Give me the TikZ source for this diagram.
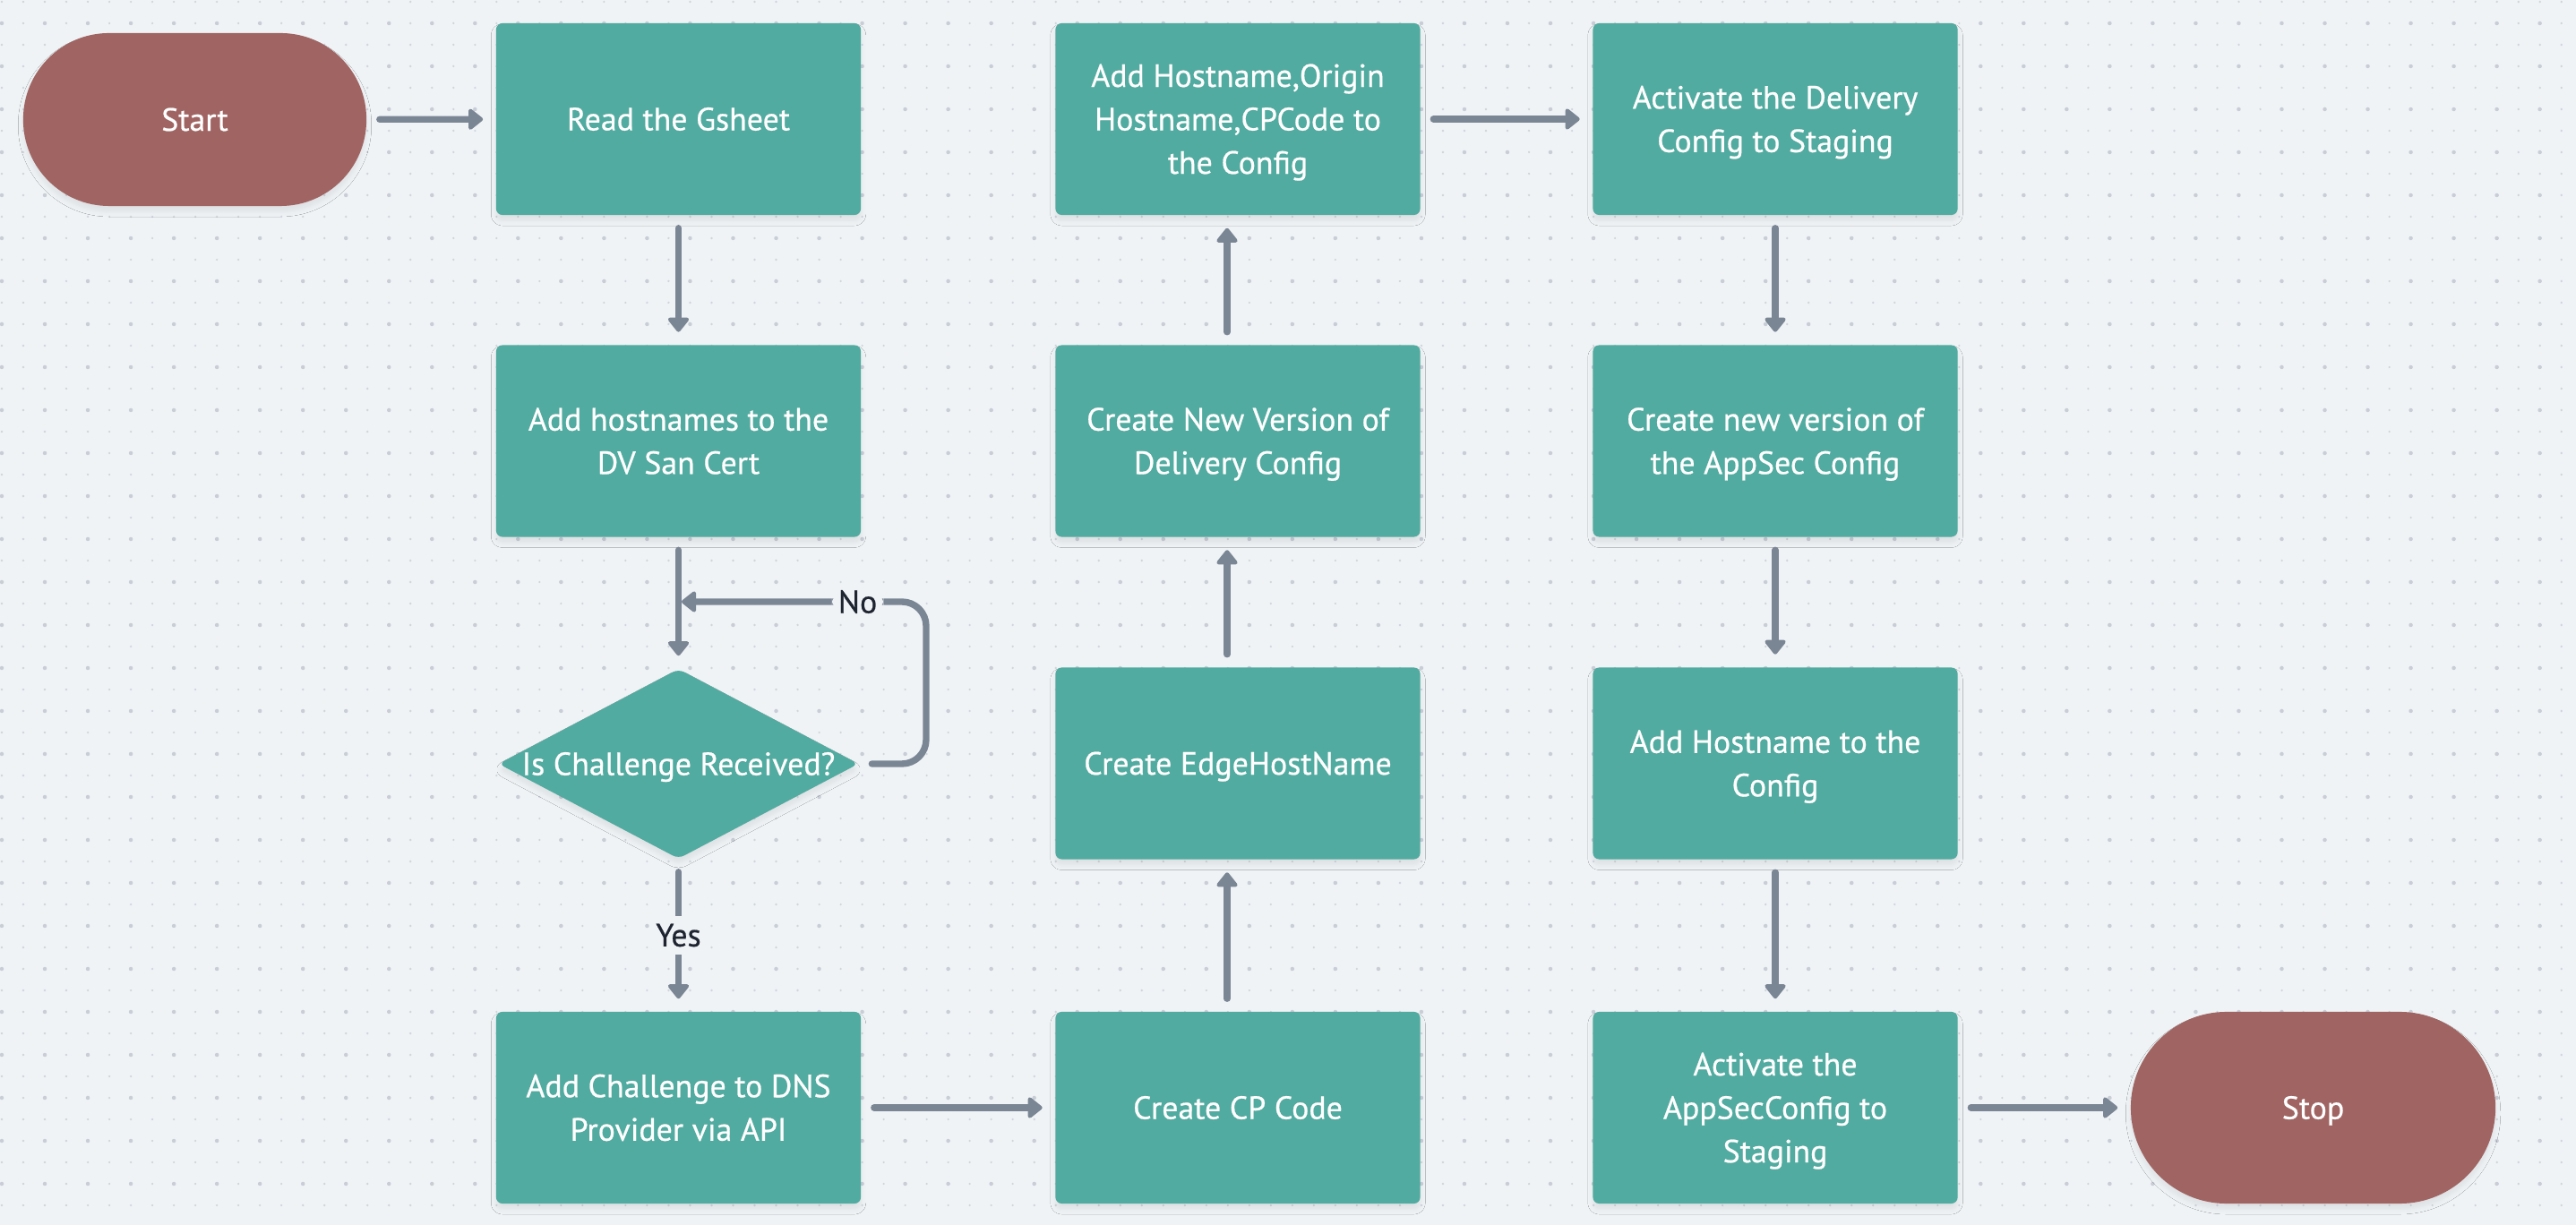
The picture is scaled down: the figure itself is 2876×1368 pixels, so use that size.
\documentclass[tikz,border=0pt]{standalone}
\usepackage{fontspec}
\usetikzlibrary{arrows.meta,shapes.geometric,shadows.blur}
\newfontfamily\boxface[FakeBold=0.6]{PT Sans}
\newcommand{\bxfont}{\boxface\fontsize{10.2pt}{13.8pt}\selectfont}
\newcommand{\ts}{\rule{0pt}{9.64pt}}
\newcommand{\bs}{\rule[-2.5pt]{0pt}{2.5pt}}
\definecolor{bgc}{RGB}{239,243,246}
\definecolor{dotc}{RGB}{208,213,221}
\definecolor{bigdotc}{RGB}{200,205,214}
\definecolor{tealc}{RGB}{82,171,160}
\definecolor{brownc}{RGB}{160,101,99}
\definecolor{arrowc}{RGB}{123,134,149}
\definecolor{labc}{RGB}{30,36,48}
\tikzset{
  softshadow/.style={blur shadow={shadow xshift=0pt, shadow yshift=-1.8pt, shadow opacity=7, shadow blur radius=1.6pt, shadow blur steps=5}},
  nodetext/.style={text=white, font=\bxfont},
  stepbox/.style={rectangle, rounded corners=2pt, fill=tealc, minimum width=4.07cm, minimum height=2.14cm, inner sep=0pt, align=center, nodetext, softshadow},
  termbox/.style={rectangle, rounded corners=0.96cm, fill=brownc, minimum width=3.83cm, minimum height=1.93cm, inner sep=0pt, align=center, nodetext, softshadow},
  decbox/.style={diamond, rounded corners=2pt, fill=tealc, minimum width=4.02cm, minimum height=2.12cm, inner sep=0pt, nodetext, softshadow},
  conn/.style={draw=arrowc, line width=2.1pt, line cap=round, -{Triangle[length=5pt,width=7.6pt,round]}, shorten <=0.14cm, shorten >=0.14cm},
  lab/.style={fill=bgc, text=labc, font=\bxfont, inner xsep=2pt, inner ysep=2.5pt},
  smalldots/.style={draw=dotc, line width=0.026cm, line cap=round, dash pattern=on 0pt off 0.24cm},
  bigdots/.style={draw=bigdotc, line width=0.045cm, line cap=round, dash pattern=on 0pt off 0.48cm}
}
\begin{document}
\begin{tikzpicture}[x=0.01cm, y=-0.01cm]
\useasboundingbox (0,0) rectangle (2876,1368);
\fill[bgc] (0,0) rectangle (2876,1368);
% dotted background
\foreach \j in {0,...,56} {
  \draw[smalldots] (2,{2+24*\j}) -- (2880,{2+24*\j});
}
\foreach \m in {0,...,27} {
  \draw[bigdots] (2,{26+48*\m}) -- (2880,{26+48*\m});
}
% nodes
\node[termbox] (start) at (217.5,133.5) {\ts Start\bs};
\node[stepbox] (read)  at (757.5,133) {\ts Read the Gsheet\bs};
\node[stepbox] (hosts) at (757.5,492.5) {\ts Add hostnames to the\\DV San Cert\bs};
\node[decbox]  (dec)   at (757.5,853) {\makebox[0pt][c]{\ts Is Challenge Received?\bs}};
\node[stepbox] (chal)  at (757.5,1237) {\ts Add Challenge to DNS\\Provider via API\bs};
\node[stepbox] (cpc)   at (1382,1237) {\ts Create CP Code\bs};
\node[stepbox] (edge)  at (1382,852.5) {\ts Create EdgeHostName\bs};
\node[stepbox] (newv)  at (1382,492.5) {\ts Create New Version of\\Delivery Config\bs};
\node[stepbox] (addh)  at (1382,133) {\ts Add Hostname,Origin\\Hostname,CPCode to\\the Config\bs};
\node[stepbox] (actd)  at (1982,133) {\ts Activate the Delivery\\Config to Staging\bs};
\node[stepbox] (newa)  at (1982,492.5) {\ts Create new version of\\the AppSec Config\bs};
\node[stepbox] (addc)  at (1982,852.5) {\ts Add Hostname to the\\Config\bs};
\node[stepbox] (acta)  at (1982,1237) {\ts Activate the\\AppSecConfig to\\Staging\bs};
\node[termbox, minimum width=4.07cm, minimum height=2.14cm, rounded corners=1.07cm] (stop) at (2582.5,1237) {\ts Stop\bs};
% connectors
\draw[conn] (start) -- (read);
\draw[conn] (read) -- (hosts);
\draw[conn] (hosts) -- (dec);
\coordinate (nojoin) at (761,672);
\coordinate (loopc) at (1034,672);
\draw[conn, rounded corners=0.27cm, shorten >=0pt] (dec.east) -| (loopc) -- node[lab, pos=0.28] {No} (nojoin);
\draw[conn] (dec) -- node[lab] {Yes} (chal);
\draw[conn] (chal) -- (cpc);
\draw[conn] ([xshift=-0.12cm]cpc.north) -- ([xshift=-0.12cm]edge.south);
\draw[conn] ([xshift=-0.12cm]edge.north) -- ([xshift=-0.12cm]newv.south);
\draw[conn] ([xshift=-0.12cm]newv.north) -- ([xshift=-0.12cm]addh.south);
\draw[conn] (addh) -- (actd);
\draw[conn] (actd) -- (newa);
\draw[conn] (newa) -- (addc);
\draw[conn] (addc) -- (acta);
\draw[conn] (acta) -- (stop);
\end{tikzpicture}
\end{document}
